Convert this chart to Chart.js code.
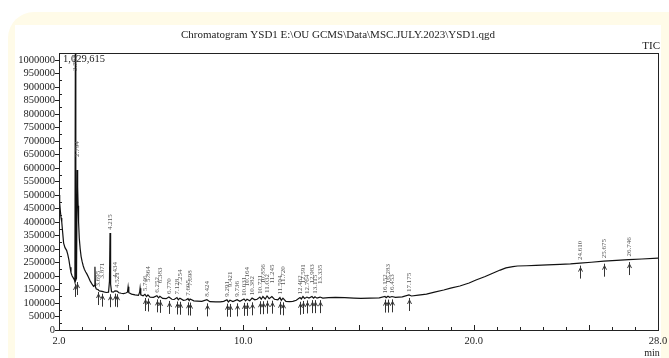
<!DOCTYPE html>
<html>
<head>
<meta charset="utf-8">
<script src="https://cdn.jsdelivr.net/npm/chart.js@4.4.0/dist/chart.umd.min.js"></script>
<style>
    body { margin: 0; background: #ffffff; }
    #wrap { position: relative; width: 669px; height: 358px; overflow: hidden; }
    #card { position: absolute; left: 8px; top: 12px; width: 720px; height: 400px; border-radius: 26px; background: #fffbe8; }
    #panel { position: absolute; left: 15px; top: 25px; width: 646px; height: 340px; background: #ffffff; }
    #chart { position: absolute; left: 0; top: 0; }
</style>
</head>
<body>
<div id="wrap">
    <div id="card"></div>
    <div id="panel"></div>
    <canvas id="chart" width="669" height="358"></canvas>
</div>
<script>
// Texts
const chartTitle = 'Chromatogram YSD1 E:\\OU GCMS\\Data\\MSC.JULY.2023\\YSD1.qgd';
const traceName = 'TIC';
const maxLabel = '1,029,615';
const xUnit = 'min';

// Retention time (min) and intensity of the TIC trace
const retTime = [
    2.00, 2.03, 2.06, 2.09, 2.12, 2.16, 2.20, 2.26, 2.33, 2.38, 2.43, 2.48, 2.52, 2.57, 2.62, 2.67, 2.69,
    2.71, 2.73, 2.76, 2.79, 2.81, 2.83, 2.85, 2.88, 2.92, 2.96, 3.00, 3.05, 3.10, 3.16, 3.22, 3.28, 3.35,
    3.42, 3.50, 3.54, 3.56, 3.58, 3.62, 3.69, 3.75, 3.87, 3.95, 4.05, 4.15, 4.19, 4.215, 4.24, 4.28, 4.36,
    4.43, 4.52, 4.60, 4.70, 4.80, 4.90, 4.97, 5.00, 5.03, 5.15, 5.30, 5.45, 5.50, 5.52, 5.55, 5.65, 5.73,
    5.80, 5.86, 5.95, 6.10, 6.25, 6.32, 6.38, 6.50, 6.65, 6.77, 6.90, 7.00, 7.12, 7.18, 7.25, 7.40, 7.50,
    7.60, 7.65, 7.69, 7.85, 8.00, 8.20, 8.42, 8.55, 8.80, 9.00, 9.15, 9.29, 9.35, 9.42, 9.55, 9.73, 9.85,
    10.03, 10.10, 10.16, 10.28, 10.38, 10.50, 10.60, 10.72, 10.78, 10.85, 10.95, 11.03, 11.12, 11.24, 11.35,
    11.50, 11.59, 11.65, 11.72, 11.85, 12.00, 12.15, 12.30, 12.46, 12.52, 12.59, 12.66, 12.76, 12.85, 12.98,
    13.05, 13.11, 13.20, 13.33, 13.45, 13.70, 14.00, 14.40, 14.80, 15.10, 15.50, 15.90, 16.15, 16.20, 16.28,
    16.35, 16.45, 16.60, 16.90, 17.19, 17.30, 17.60, 17.95, 18.30, 18.70, 19.00, 19.40, 19.80, 20.10, 20.50,
    20.85, 21.15, 21.40, 21.70, 21.90, 22.30, 22.70, 23.20, 23.75, 24.20, 24.61, 25.10, 25.65, 26.20, 26.73,
    27.30, 28.00
];
const intensity = [
    500000, 470000, 440000, 415000, 400000, 360000, 322000, 305000, 295000, 280000, 260000, 232000, 212000, 200000, 193000, 185000, 178000,
    1029615, 185000, 192000, 593000, 530000, 460000, 400000, 340000, 300000, 272000, 255000, 238000, 225000, 215000, 206000, 195000, 182000,
    172000, 162000, 165000, 234000, 160000, 152000, 150000, 145000, 143000, 141000, 139000, 140000, 180000, 359000, 170000, 142000, 140000,
    145000, 144000, 138000, 136000, 135000, 137000, 140000, 160000, 138000, 133000, 130000, 128000, 140000, 155000, 130000, 127000, 132000,
    124000, 130000, 122000, 121000, 127000, 119000, 125000, 117000, 116000, 122000, 114000, 113000, 120000, 112000, 118000, 110000, 111000,
    116000, 109000, 115000, 108000, 107000, 106000, 112000, 105000, 104000, 104000, 106000, 112000, 104000, 110000, 105000, 112000, 106000,
    115000, 108000, 114000, 108000, 118000, 112000, 114000, 122000, 114000, 124000, 115000, 126000, 116000, 124000, 114000,
    112000, 120000, 110000, 118000, 106000, 105000, 106000, 110000, 120000, 115000, 124000, 117000, 122000, 118000, 124000,
    118000, 123000, 118000, 122000, 118000, 120000, 121000, 120000, 118000, 117000, 118000, 119000, 124000, 120000, 125000,
    121000, 124000, 121000, 123000, 130000, 126000, 129000, 133000, 140000, 148000, 155000, 163000, 174000, 185000, 198000,
    211000, 222000, 230000, 235000, 237000, 238000, 239000, 241000, 243000, 245000, 248000, 251000, 255000, 258000, 261000,
    263000, 266000
];

// Detected peaks: retention time, label, apex and base intensity
const peakTimes = [2.71, 2.79, 3.69, 3.87, 4.215, 4.43, 4.52, 5.73, 5.86, 6.25, 6.38, 6.77, 7.12, 7.25, 7.60, 7.69, 8.42,
    9.29, 9.42, 9.73, 10.03, 10.16, 10.38, 10.72, 10.85, 11.03, 11.24, 11.59, 11.72, 12.46, 12.59, 12.76, 12.98, 13.11, 13.33,
    16.15, 16.28, 16.45, 17.19, 24.61, 25.65, 26.73];
const peakLabels = ['2.701', '2.794', '3.695', '3.871', '4.215', '4.434', '4.521', '5.746', '5.864', '6.252', '6.383', '6.770',
    '7.128', '7.254', '7.605', '7.698', '8.424', '9.291', '9.421', '9.736', '10.031', '10.164', '10.382', '10.721', '10.856',
    '11.032', '11.245', '11.594', '11.720', '12.462', '12.591', '12.764', '12.983', '13.115', '13.335', '16.152', '16.283',
    '16.453', '17.175', '24.610', '25.675', '26.746'];
const peakHeights = [1029615, 593000, 150000, 143000, 359000, 145000, 144000, 132000, 130000, 127000, 125000, 122000, 120000,
    118000, 116000, 115000, 112000, 112000, 110000, 112000, 115000, 114000, 118000, 122000, 124000, 126000, 124000, 120000,
    118000, 120000, 124000, 122000, 124000, 123000, 122000, 124000, 125000, 124000, 130000, 248000, 255000, 261000];
const peakBases = [178000, 185000, 148000, 142000, 140000, 142000, 140000, 126000, 124000, 121000, 119000, 115000, 113000,
    112000, 110000, 109000, 106000, 105000, 104000, 106000, 108000, 108000, 110000, 114000, 114000, 116000, 116000, 112000,
    110000, 112000, 115000, 117000, 118000, 118000, 118000, 120000, 120000, 121000, 126000, 246000, 253000, 259000];

// Axis ticks
const xTickValues = [2, 10, 20, 28];
const yTickValues = [0, 50000, 100000, 150000, 200000, 250000, 300000, 350000, 400000, 450000, 500000, 550000, 600000,
    650000, 700000, 750000, 800000, 850000, 900000, 950000, 1000000];

const serif = 'Liberation Serif';
const ink = '#222';

/**
 * Draws frame, minor ticks, the peak markers and the loose texts
 */
const chromPlugin = {
    id: 'chrom',
    afterDraw(chart) {
        const ctx = chart.ctx;
        const area = chart.chartArea;
        const xs = chart.scales.x;
        const ys = chart.scales.y;

        ctx.save();
        ctx.strokeStyle = ink;
        ctx.lineWidth = 1;
        ctx.strokeRect(Math.round(area.left) + 0.5, Math.round(area.top) + 0.5,
            Math.round(area.right - area.left), Math.round(area.bottom - area.top));

        // x minor ticks (every minute, longer every 5)
        ctx.beginPath();
        for (let t = 3; t < 28; t++) {
            const px = Math.round(xs.getPixelForValue(t)) + 0.5;
            const len = (t % 5 === 0) ? 5 : 3;
            ctx.moveTo(px, area.bottom + 1);
            ctx.lineTo(px, area.bottom - len);
        }
        // y minor ticks
        for (let v = 25000; v < 1026000; v += 50000) {
            const py = Math.round(ys.getPixelForValue(v)) + 0.5;
            ctx.moveTo(area.left, py);
            ctx.lineTo(area.left + 3, py);
        }
        ctx.stroke();

        // peak markers
        ctx.strokeStyle = '#333';
        ctx.fillStyle = '#555';
        ctx.font = '7px "' + serif + '"';
        ctx.textAlign = 'left';
        ctx.textBaseline = 'middle';
        let lastX = -100, lastLevel = 1;
        for (let i = 0; i < peakTimes.length; i++) {
            const px = Math.round(xs.getPixelForValue(peakTimes[i])) + 0.5;
            const pTop = ys.getPixelForValue(peakHeights[i]);
            const pBase = ys.getPixelForValue(peakBases[i]);

            ctx.beginPath();
            ctx.moveTo(px, pBase + 2);
            ctx.lineTo(px, pBase + 15);
            ctx.moveTo(px - 2, pBase + 8);
            ctx.lineTo(px, pBase + 4);
            ctx.lineTo(px + 2, pBase + 8);
            ctx.stroke();

            // one step up when two labels stand too close
            const level = (px - lastX < 6 && lastLevel === 0) ? 1 : 0;
            const start = Math.max(pTop - 3 - level * 10, area.top + 18);
            ctx.save();
            ctx.beginPath();
            ctx.rect(area.left, area.top, area.right - area.left, area.bottom - area.top);
            ctx.clip();
            ctx.translate(px, start);
            ctx.rotate(-Math.PI / 2);
            ctx.fillText(peakLabels[i], 0, 0);
            ctx.restore();
            lastX = px;
            lastLevel = level;
        }

        // texts
        ctx.fillStyle = ink;
        ctx.font = '11px "' + serif + '"';
        ctx.textAlign = 'center';
        ctx.textBaseline = 'middle';
        ctx.fillText(chartTitle, 338, 35);
        ctx.textAlign = 'right';
        ctx.fillText(traceName, 660, 46);
        ctx.font = '10.5px "' + serif + '"';
        ctx.textAlign = 'left';
        ctx.fillText(maxLabel, area.left + 4, area.top + 6);
        ctx.textAlign = 'center';
        ctx.font = '10px "' + serif + '"';
        ctx.fillText(xUnit, area.right - 6, 353);
        ctx.restore();
    }
};

const points = retTime.map((t, i) => ({ x: t, y: intensity[i] }));

new Chart(document.getElementById('chart'), {
    type: 'line',
    data: {
        datasets: [{
            label: traceName,
            data: points,
            borderColor: '#111',
            borderWidth: 1.2,
            pointRadius: 0,
            tension: 0,
            fill: false,
        }]
    },
    options: {
        responsive: false,
        animation: false,
        layout: { padding: { top: 53, right: 11, left: 0, bottom: 0 } },
        plugins: {
            legend: { display: false },
            tooltip: { enabled: false },
        },
        scales: {
            x: {
                type: 'linear',
                min: 2,
                max: 28,
                afterBuildTicks: (s) => { s.ticks = xTickValues.map(v => ({ value: v })); },
                afterFit: (s) => { s.height = 28; },
                ticks: {
                    callback: (v) => Number(v).toFixed(1),
                    autoSkip: false,
                    maxRotation: 0,
                    padding: -3,
                    color: ink,
                    font: { family: serif, size: 10.5 },
                },
                grid: { display: false },
                border: { display: true, color: ink },
            },
            y: {
                min: 0,
                max: 1026000,
                afterBuildTicks: (s) => { s.ticks = yTickValues.map(v => ({ value: v })); },
                afterFit: (s) => { s.width = 59; },
                ticks: {
                    callback: (v) => String(v),
                    autoSkip: false,
                    padding: 0,
                    color: ink,
                    font: { family: serif, size: 10.5 },
                },
                grid: { display: true, drawOnChartArea: false, drawTicks: true, tickLength: 4, color: ink },
                border: { display: true, color: ink },
            }
        }
    },
    plugins: [chromPlugin]
});
</script>
</body>
</html>
